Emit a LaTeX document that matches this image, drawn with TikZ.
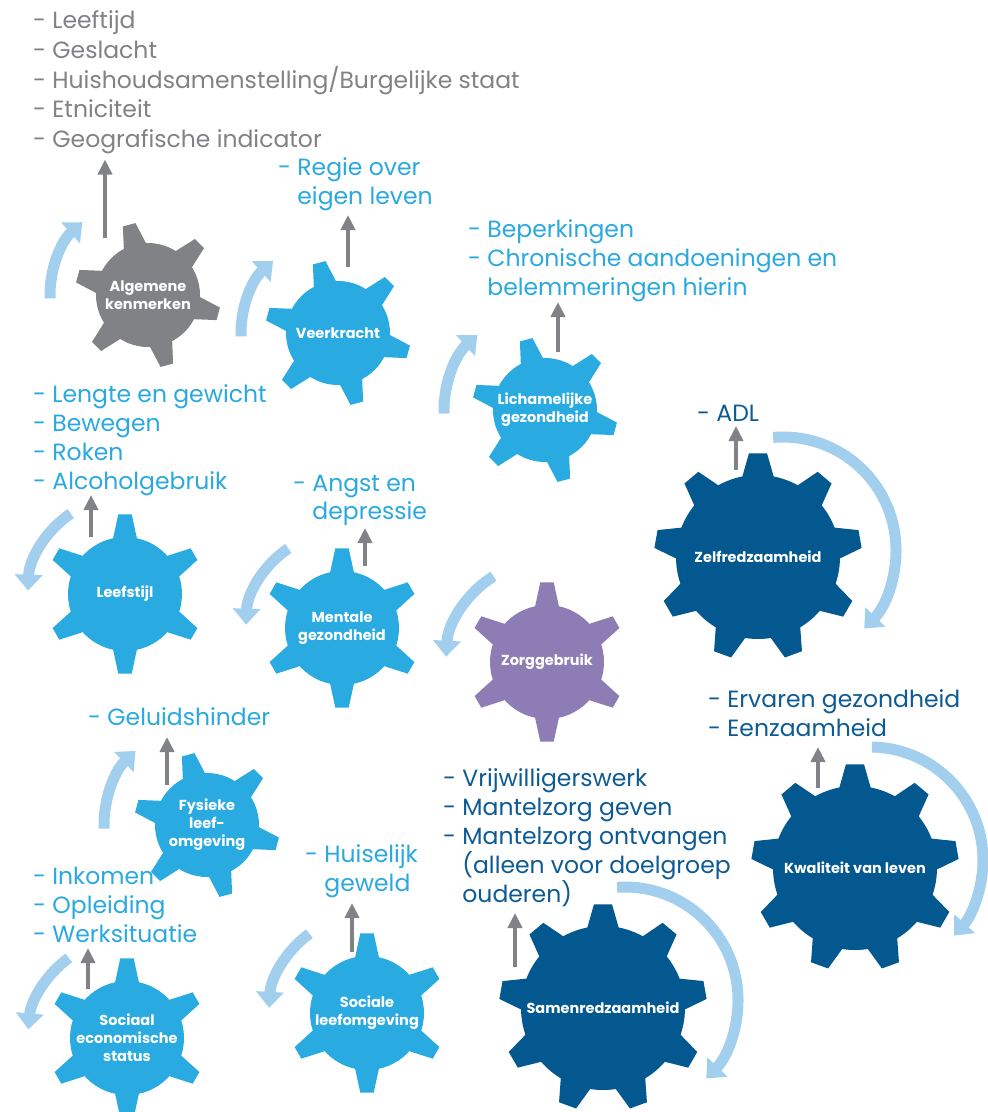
\documentclass[tikz,border=0pt]{standalone}
\usepackage{fontspec}
\setmainfont{Poppins}
\usetikzlibrary{arrows.meta,calc,backgrounds}

\definecolor{cogGray}{HTML}{808285}
\definecolor{cogCyan}{HTML}{29ABE2}
\definecolor{cogNavy}{HTML}{03588F}
\definecolor{cogPurple}{HTML}{8D7DB4}
\definecolor{spinBlue}{HTML}{A3CFEE}
\definecolor{listCyan}{HTML}{2AA9E0}
\definecolor{listNavy}{HTML}{0D5B94}
\definecolor{listGray}{HTML}{808285}

% centre, teeth, body radius, tip radius, first tooth, half base angle, half tip angle, colour
\newcommand{\drawcog}[8]{%
  \fill[#8] (#1) circle[radius=#3pt];
  \foreach \k in {1,...,#2}{%
    \pgfmathsetmacro{\ta}{#5+360*(\k-1)/#2}
    \pgfmathsetmacro{\rin}{#3-4}
    \fill[#8] ($(#1)+(\ta-#6:\rin pt)$) -- ($(#1)+(\ta-#7:#4pt)$)
      -- ($(#1)+(\ta+#7:#4pt)$) -- ($(#1)+(\ta+#6:\rin pt)$) -- cycle;
  }%
}

\begin{document}
\begin{tikzpicture}[x=1pt,y=-1pt,
  cogtext/.style={text=white,font=\bfseries\fontsize{14.5}{18}\selectfont,align=center},
  listitem/.style={anchor=base west,inner sep=0pt,font=\fontsize{23.5}{29.5}\selectfont},
  liftarrow/.style={draw=cogGray,line width=4pt,-{Triangle[length=15pt,width=14pt]}},
  spin/.style={draw=spinBlue,line width=11pt,-{Triangle[length=16pt,width=27pt]}}]

\useasboundingbox (0,0) rectangle (988,1112);

% gear labels
\node[cogtext] (alg) at (148,295) {Algemene\\kenmerken};
\node[cogtext] (veer) at (338,333) {Veerkracht};
\node[cogtext] (lich) at (545,410) {Lichamelijke\\gezondheid};
\node[cogtext] (zelf) at (758,557) {Zelfredzaamheid};
\node[cogtext] (leef) at (125,594) {Leefstijl};
\node[cogtext] (ment) at (342,628) {Mentale\\gezondheid};
\node[cogtext] (zorg) at (547,662) {Zorggebruik};
\node[cogtext] (fys) at (207,825) {Fysieke\\leef-\\omgeving};
\node[cogtext] (soc) at (367,1013) {Sociale\\leefomgeving};
\node[cogtext] (ses) at (127,1038) {Sociaal\\economische\\status};
\node[cogtext] (samen) at (603,1008) {Samenredzaamheid};
\node[cogtext] (kwal) at (855,868) {Kwaliteit van leven};

\begin{scope}[on background layer]
\fill[white] (0,0) rectangle (988,1112);
\drawcog{alg}{6}{52}{73}{45}{15}{5.1}{cogGray}
\drawcog{veer}{6}{52}{73}{45}{15}{5.1}{cogCyan}
\drawcog{lich}{6}{52}{73}{45}{15}{5.1}{cogCyan}
\drawcog{fys}{6}{52}{73}{45}{15}{5.1}{cogCyan}
\drawcog{leef}{6}{57}{80}{30}{14}{4.8}{cogCyan}
\drawcog{ment}{6}{57}{80}{30}{14}{4.8}{cogCyan}
\drawcog{zorg}{6}{57}{80}{30}{14}{4.8}{cogPurple}
\drawcog{soc}{6}{57}{80}{30}{14}{4.8}{cogCyan}
\drawcog{ses}{6}{57}{80}{30}{14}{4.8}{cogCyan}
\drawcog{zelf}{9}{82}{104}{90}{12.5}{5}{cogNavy}
\drawcog{samen}{9}{82}{104}{90}{12.5}{5}{cogNavy}
\drawcog{kwal}{9}{82}{104}{90}{12.5}{5}{cogNavy}
\end{scope}

% lists
\node[listitem,text=listGray] (alg1) at (33,28.5) {- Leeftijd};
\node[listitem,text=listGray] (alg2) at (33,58) {- Geslacht};
\node[listitem,text=listGray] (alg3) at (33,88) {- Huishoudsamenstelling/Burgelijke staat};
\node[listitem,text=listGray] (alg4) at (33,117.5) {- Etniciteit};
\node[listitem,text=listGray] (alg5) at (33,147.5) {- Geografische indicator};

\node[listitem,text=listCyan] (veer1) at (278,175) {- Regie over};
\node[listitem,text=listCyan] (veer2) at (278,204) {\phantom{- }eigen leven};

\node[listitem,text=listCyan] (lich1) at (468,237) {- Beperkingen};
\node[listitem,text=listCyan] (lich2) at (468,266) {- Chronische aandoeningen en};
\node[listitem,text=listCyan] (lich3) at (468,295) {\phantom{- }belemmeringen hierin};

\node[listitem,text=listNavy] (zelf1) at (697,421) {- ADL};

\node[listitem,text=listCyan] (leef1) at (33,402) {- Lengte en gewicht};
\node[listitem,text=listCyan] (leef2) at (33,431) {- Bewegen};
\node[listitem,text=listCyan] (leef3) at (33,460) {- Roken};
\node[listitem,text=listCyan] (leef4) at (33,489) {- Alcoholgebruik};

\node[listitem,text=listCyan] (ment1) at (293,491) {- Angst en};
\node[listitem,text=listCyan] (ment2) at (293,519) {\phantom{- }depressie};

\node[listitem,text=listNavy] (kwal1) at (708,707) {- Ervaren gezondheid};
\node[listitem,text=listNavy] (kwal2) at (708,736) {- Eenzaamheid};

\node[listitem,text=listCyan] (fys1) at (88,725) {- Geluidshinder};

\node[listitem,text=listNavy] (samen1) at (443,786) {- Vrijwilligerswerk};
\node[listitem,text=listNavy] (samen2) at (443,815) {- Mantelzorg geven};
\node[listitem,text=listNavy] (samen3) at (443,844) {- Mantelzorg ontvangen};
\node[listitem,text=listNavy] (samen4) at (443,873) {\phantom{- }(alleen voor doelgroep};
\node[listitem,text=listNavy] (samen5) at (443,902) {\phantom{- }ouderen)};

\node[listitem,text=listCyan] (soc1) at (305,862) {- Huiselijk};
\node[listitem,text=listCyan] (soc2) at (305,891) {\phantom{- }geweld};

\node[listitem,text=listCyan] (ses1) at (33,884) {- Inkomen};
\node[listitem,text=listCyan] (ses2) at (33,913) {- Opleiding};
\node[listitem,text=listCyan] (ses3) at (33,942) {- Werksituatie};

% arrows from the gears to their lists
\coordinate (algFoot) at ($(alg)+(-43,-57)$);
\coordinate (veerFoot) at ($(veer)+(10,-66)$);
\coordinate (lichFoot) at ($(lich)+(13,-58)$);
\coordinate (zelfFoot) at ($(zelf)+(-22,-87)$);
\coordinate (leefFoot) at ($(leef)+(-34,-57)$);
\coordinate (mentFoot) at ($(ment)+(23,-62)$);
\coordinate (fysFoot) at ($(fys)+(-40,-40)$);
\coordinate (socFoot) at ($(soc)+(-15,-61)$);
\coordinate (sesFoot) at ($(ses)+(-39,-49)$);
\coordinate (samenFoot) at ($(samen)+(-88,-41)$);
\coordinate (kwalFoot) at ($(kwal)+(-37,-80)$);

\draw[liftarrow,shorten >=12pt] (algFoot) -- (algFoot |- alg5.base);
\draw[liftarrow,shorten >=11pt] (veerFoot) -- (veerFoot |- veer2.base);
\draw[liftarrow,shorten >=7pt] (lichFoot) -- (lichFoot |- lich3.base);
\draw[liftarrow,shorten >=5pt] (zelfFoot) -- (zelfFoot |- zelf1.base);
\draw[liftarrow,shorten >=6pt] (leefFoot) -- (leefFoot |- leef4.base);
\draw[liftarrow,shorten >=9pt] (mentFoot) -- (mentFoot |- ment2.base);
\draw[liftarrow,shorten >=12pt] (fysFoot) -- (fysFoot |- fys1.base);
\draw[liftarrow,shorten >=12pt] (socFoot) -- (socFoot |- soc2.base);
\draw[liftarrow,shorten >=6pt] (sesFoot) -- (sesFoot |- ses3.base);
\draw[liftarrow,shorten >=11pt] (samenFoot) -- (samenFoot |- samen5.base);
\draw[liftarrow,shorten >=11pt] (kwalFoot) -- (kwalFoot |- kwal2.base);

% turning arrows
\draw[spin] ($(alg)+(182:98pt)$) arc[start angle=182,end angle=132,radius=98pt];
\draw[spin] ($(veer)+(182:97pt)$) arc[start angle=182,end angle=132,radius=97pt];
\draw[spin] ($(lich)+(182:101pt)$) arc[start angle=182,end angle=132,radius=101pt];
\draw[spin] ($(fys)+(182:103pt)$) arc[start angle=182,end angle=134,radius=103pt];
\draw[spin] ($(leef)+(124:97pt)$) arc[start angle=124,end angle=178,radius=97pt];
\draw[spin] ($(ment)+(124:96pt)$) arc[start angle=124,end angle=178,radius=96pt];
\draw[spin] ($(zorg)+(122:101pt)$) arc[start angle=122,end angle=177,radius=101pt];
\draw[spin] ($(soc)+(126:98pt)$) arc[start angle=126,end angle=177,radius=98pt];
\draw[spin] ($(ses)+(126:99pt)$) arc[start angle=126,end angle=175,radius=99pt];
\draw[spin] ($(zelf)+(25,-7)+(95:113pt)$) arc[start angle=95,end angle=-44,radius=113pt];
\draw[spin] ($(kwal)+(15,-8)+(89:113pt)$) arc[start angle=89,end angle=-42,radius=113pt];
\draw[spin] ($(samen)+(22,-8)+(94:113pt)$) arc[start angle=94,end angle=-44,radius=113pt];

\end{tikzpicture}
\end{document}
